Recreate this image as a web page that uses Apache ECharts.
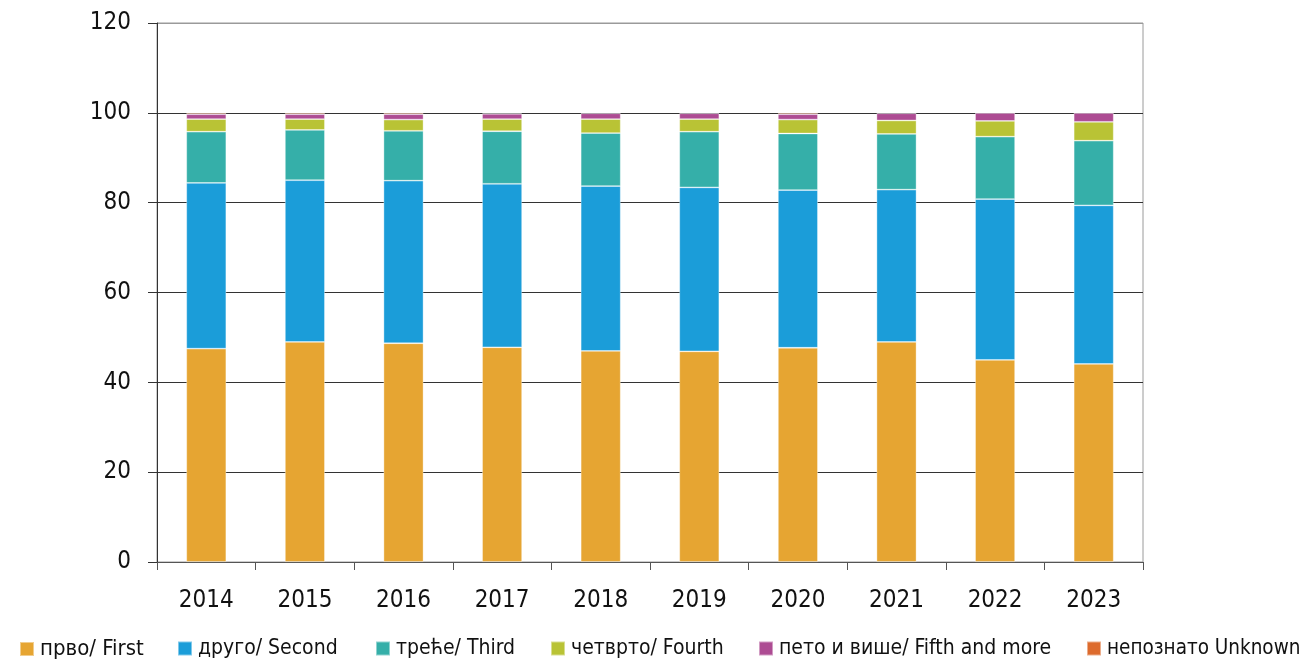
<!DOCTYPE html>
<html>
<head>
<meta charset="utf-8">
<script src="https://cdn.jsdelivr.net/npm/echarts@6/dist/echarts.min.js"></script>
<style>
html,body{margin:0;padding:0;background:#fff;}
#chart{width:1310px;height:668px;}
</style>
</head>
<body>
<div id="chart"></div>
<script>
const categories = ['2014','2015','2016','2017','2018','2019','2020','2021','2022','2023'];
const seriesNames = ['прво/ First','друго/ Second','треће/ Third','четврто/ Fourth','пето и више/ Fifth and more','непознато Unknown'];
const first   = [47.5, 49.0, 48.7, 47.8, 47.0, 46.9, 47.7, 49.0, 45.0, 44.1];
const second  = [36.9, 36.0, 36.2, 36.4, 36.7, 36.5, 35.1, 33.9, 35.8, 35.3];
const third   = [11.4, 11.2, 11.1, 11.7, 11.8, 12.4, 12.6, 12.4, 13.9, 14.4];
const fourth  = [2.8, 2.4, 2.5, 2.7, 3.1, 2.8, 3.1, 3.0, 3.5, 4.2];
const fifth   = [1.1, 1.1, 1.2, 1.2, 1.3, 1.3, 1.2, 1.6, 1.8, 2.0];
const unknown = [0.3, 0.3, 0.3, 0.2, 0.1, 0.1, 0.3, 0.1, 0.0, 0.0];
const yTicks = {min: 0, max: 120, interval: 20};

const colors = ['#E6A532','#1B9DD9','#35AFA9','#B9C335','#AD4C93','#DD6B2D'];
const values = [first, second, third, fourth, fifth, unknown];
const FONT = '"Liberation Sans Narrow", "Noto Sans Condensed", "DejaVu Sans Condensed", sans-serif';
const legendLeft = [19, 177, 375, 550, 758, 1086];
const legendFont = [22, 21, 21, 21, 21, 20.5];

const chart = echarts.init(document.getElementById('chart'), null, {renderer: 'canvas'});
chart.setOption({
  animation: false,
  color: colors,
  grid: {left: 157, right: 167, top: 23, bottom: 106, show: true, borderColor: '#9a9a9a', borderWidth: 1},
  legend: seriesNames.map((name, i) => ({
    left: legendLeft[i], top: 638,
    padding: 0,
    itemWidth: 14, itemHeight: 14,
    icon: 'rect',
    textStyle: {fontFamily: FONT, fontSize: legendFont[i], color: '#111', padding: [0,0,0,1]},
    data: [name]
  })),
  xAxis: {
    type: 'category',
    data: categories,
    axisLine: {lineStyle: {color: '#555', width: 1}},
    axisTick: {show: true, length: 8, lineStyle: {color: '#555'}},
    axisLabel: {fontFamily: FONT, fontSize: 24, color: '#111', margin: 27}
  },
  yAxis: {
    type: 'value',
    min: yTicks.min, max: yTicks.max, interval: yTicks.interval,
    axisLine: {show: true, lineStyle: {color: '#333', width: 1}},
    axisTick: {show: true, length: 9, lineStyle: {color: '#333'}},
    axisLabel: {fontFamily: FONT, fontSize: 24, color: '#111', margin: 26},
    splitLine: {show: true, lineStyle: {color: ['#333','#333','#333','#333','#333','#333','#9a9a9a'], width: 1}}
  },
  series: seriesNames.map((name, i) => ({
    name: name,
    type: 'bar',
    stack: 'total',
    barWidth: 40,
    data: values[i],
    itemStyle: {color: colors[i], borderColor: 'rgba(255,255,255,0.45)', borderWidth: 0.8}
  }))
});
</script>
</body>
</html>
